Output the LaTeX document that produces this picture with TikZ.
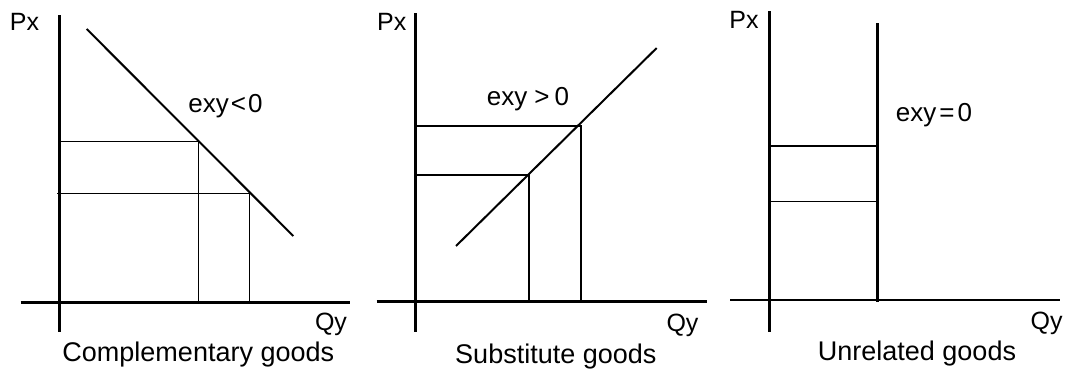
\documentclass[tikz,border=0pt]{standalone}
\usepackage{fontspec}
\setmainfont{Liberation Sans}
\begin{document}
\begin{tikzpicture}[x=1pt,y=-1pt,
  axis/.style={line width=2.6pt},
  curve/.style={line width=2pt},
  guide/.style={line width=1.2pt},
  lbl/.style={inner sep=0pt,font=\fontsize{25}{29}\selectfont},
  big/.style={inner sep=0pt,font=\fontsize{27}{31}\selectfont},
  mid/.style={inner sep=0pt,font=\fontsize{26}{30}\selectfont}]
\useasboundingbox (0,0) rectangle (1067,375);
\fill[white] (0,0) rectangle (1067,375);
% ---------- Panel 1: complementary goods ----------
\coordinate (v1t) at (59.5,15);
\coordinate (v1b) at (59.5,332);
\coordinate (h1l) at (20.7,302.7);
\coordinate (h1r) at (350,302.7);
\coordinate (d1a) at (86.7,29);
\coordinate (d1b) at (293.3,236);
\coordinate (p1a) at (198.3,141.7);
\coordinate (p1b) at (249.3,193.3);
\coordinate (y1a) at (59.5,141.7);
\coordinate (y1b) at (57.3,193.3);
\coordinate (x1a) at (198.3,302.7);
\coordinate (x1b) at (249.3,302.7);
\draw[axis] (v1t) -- (v1b);
\draw[axis] (h1l) -- (h1r);
\draw[curve] (d1a) -- (d1b);
\draw[guide] (y1a) -- (p1a) -- (x1a);
\draw[guide] (y1b) -- (p1b) -- (x1b);
\node[lbl] (px1) at (24.5,21.5) {Px};
\node[lbl] (qy1) at (331,324) {Qy};
\node[mid] (e1) at (225.5,106) {exy\hspace{2pt}<\hspace{2pt}0};
\node[big] (t1) at (198.3,355) {Complementary goods};
% ---------- Panel 2: substitute goods ----------
\coordinate (v2t) at (415.7,13.3);
\coordinate (v2b) at (415.7,331.7);
\coordinate (h2l) at (376.7,301.7);
\coordinate (h2r) at (706.7,301.7);
\coordinate (s2a) at (456,246);
\coordinate (s2b) at (656.7,48);
\coordinate (p2a) at (529,175);
\coordinate (p2b) at (581,126);
\coordinate (y2a) at (415.7,175);
\coordinate (y2b) at (415.7,126);
\coordinate (x2a) at (529,301.7);
\coordinate (x2b) at (581,301.7);
\draw[axis] (v2t) -- (v2b);
\draw[axis] (h2l) -- (h2r);
\draw[curve] (s2a) -- (s2b);
\draw[guide] (y2a) -- (p2a) -- (x2a);
\draw[guide] (y2b) -- (p2b) -- (x2b);
\node[lbl] (px2) at (391.7,21.7) {Px};
\node[lbl] (qy2) at (682.5,325) {Qy};
\node[mid] (e2) at (528,99) {exy\hspace{7pt}>\hspace{5pt}0};
\node[big] (t2) at (555.8,357) {Substitute goods};
% ---------- Panel 3: unrelated goods ----------
\coordinate (v3t) at (769.3,11);
\coordinate (v3b) at (769.3,331.7);
\coordinate (h3l) at (730,300);
\coordinate (h3r) at (1060,300);
\coordinate (d3t) at (877.7,23.3);
\coordinate (d3b) at (877.7,301.7);
\coordinate (p3a) at (877.7,146);
\coordinate (p3b) at (877.7,201.7);
\coordinate (y3a) at (769.3,146);
\coordinate (y3b) at (769.3,201.7);
\draw[axis] (v3t) -- (v3b);
\draw[axis] (h3l) -- (h3r);
\draw[axis] (d3t) -- (d3b);
\draw[guide] (y3a) -- (p3a);
\draw[guide] (y3b) -- (p3b);
\node[lbl] (px3) at (744,19.5) {Px};
\node[lbl] (qy3) at (1046.7,323) {Qy};
\node[mid] (e3) at (934,115) {exy\hspace{3pt}=\hspace{3pt}0};
\node[big] (t3) at (917,354) {Unrelated goods};
\end{tikzpicture}
\end{document}
